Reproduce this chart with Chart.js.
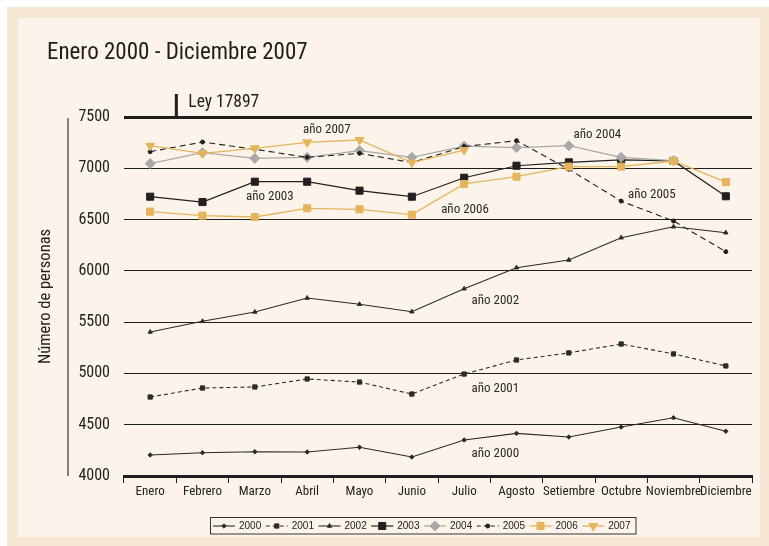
<!DOCTYPE html>
<html>
<head>
<meta charset="utf-8">
<script src="https://cdn.jsdelivr.net/npm/chart.js@4.4.1/dist/chart.umd.min.js"></script>
<style>
  html, body { margin: 0; padding: 0; background: #fff; }
  canvas { display: block; }
</style>
</head>
<body>
<canvas id="grafico" width="769" height="546"></canvas>
<script>
// datos (personas por mes)
const meses = ['Enero', 'Febrero', 'Marzo', 'Abril', 'Mayo', 'Junio', 'Julio', 'Agosto', 'Setiembre', 'Octubre', 'Noviembre', 'Diciembre'];
const anios = ['2000', '2001', '2002', '2003', '2004', '2005', '2006', '2007'];

const p2000 = [4205, 4227, 4237, 4234, 4280, 4185, 4351, 4416, 4380, 4477, 4568, 4436];
const p2001 = [4770, 4858, 4868, 4946, 4916, 4799, 4994, 5131, 5200, 5287, 5190, 5073];
const p2002 = [5404, 5508, 5599, 5735, 5674, 5602, 5826, 6031, 6106, 6323, 6430, 6372];
const p2003 = [6723, 6671, 6869, 6869, 6782, 6723, 6908, 7025, 7058, 7082, 7072, 6727];
const p2004 = [7046, 7152, 7097, 7107, 7172, 7107, 7217, 7201, 7220, 7107, 7074, null];
const p2005 = [7162, 7256, 7185, 7107, 7146, 7055, 7212, 7269, 6990, 6680, 6486, 6187];
const p2006 = [6577, 6538, 6525, 6610, 6600, 6548, 6847, 6918, 7016, 7016, 7071, 6866];
const p2007 = [7220, 7146, 7195, 7253, 7276, 7055, 7178, null, null, null, null, null];

const yMin = 4000, yMax = 7500, yPaso = 500;

// etiquetas dentro del grafico: texto, posicion en meses, valor
const notasTexto = ['año 2007', 'año 2003', 'año 2006', 'año 2004', 'año 2005', 'año 2002', 'año 2001', 'año 2000'];
const notasMes   = [2.92, 1.83, 5.56, 8.09, 9.13, 6.14, 6.14, 6.14];
const notasValor = [7373, 6720, 6593, 7324, 6740, 5706, 4855, 4221];

const leyTexto = 'Ley 17897';
const leyMes = 0.5;

const titulo = 'Enero 2000 - Diciembre 2007';
const tituloY = 'Número de personas';

const NEGRO = '#231f20';
const GRIS = '#a9a9a9';
const AMARILLO = '#e5b45c';
const ANGOSTA = "'Roboto Condensed', 'Liberation Sans', sans-serif";

const datasets = [
  { label: anios[0], data: p2000, borderColor: '#2b2b2b', backgroundColor: '#2b2b2b', borderWidth: 1.1, borderDash: [], pointStyle: 'rectRot', pointRadius: 2.2, order: 7 },
  { label: anios[1], data: p2001, borderColor: '#2b2b2b', backgroundColor: '#2b2b2b', borderWidth: 1.1, borderDash: [4, 3], pointStyle: 'rect', pointRadius: 3, order: 6 },
  { label: anios[2], data: p2002, borderColor: '#2b2b2b', backgroundColor: '#2b2b2b', borderWidth: 1.1, borderDash: [], pointStyle: 'triangle', pointRadius: 2.5, order: 5 },
  { label: anios[3], data: p2003, borderColor: NEGRO, backgroundColor: NEGRO, borderWidth: 1.2, borderDash: [], pointStyle: 'rect', pointRadius: 5, order: 4 },
  { label: anios[4], data: p2004, borderColor: GRIS, backgroundColor: GRIS, borderWidth: 1.3, borderDash: [], pointStyle: 'rectRot', pointRadius: 5, order: 3 },
  { label: anios[5], data: p2005, borderColor: NEGRO, backgroundColor: NEGRO, borderWidth: 1.1, borderDash: [6, 4], pointStyle: 'circle', pointRadius: 2, order: 2 },
  { label: anios[6], data: p2006, borderColor: AMARILLO, backgroundColor: AMARILLO, borderWidth: 1.3, borderDash: [], pointStyle: 'rect', pointRadius: 5, order: 1 },
  { label: anios[7], data: p2007, borderColor: AMARILLO, backgroundColor: AMARILLO, borderWidth: 1.3, borderDash: [], pointStyle: 'triangle', pointRotation: 180, pointRadius: 5, order: 0 }
];
datasets.forEach(d => {
  d.pointBackgroundColor = d.backgroundColor;
  d.pointBorderColor = d.borderColor;
  d.pointBorderWidth = 1;
  d.tension = 0;
  d.fill = false;
});

const marco = {
  id: 'marco',
  beforeDraw(chart) {
    const c = chart.ctx;
    c.save();
    c.fillStyle = '#ffffff';
    c.fillRect(0, 0, chart.width, chart.height);
    c.fillStyle = '#f6e7d2';
    c.fillRect(7, 7, chart.width - 7, chart.height - 7);
    c.fillStyle = '#fcf4ea';
    c.fillRect(18, 18, 742, 519);
    c.restore();
  },
  afterDraw(chart) {
    const c = chart.ctx;
    const xs = chart.scales.x, ys = chart.scales.y;
    const top = ys.getPixelForValue(yMax), bottom = ys.getPixelForValue(yMin);
    c.save();

    // titulo
    c.fillStyle = '#1e1e1e';
    c.font = '23px ' + ANGOSTA;
    c.textAlign = 'left';
    c.textBaseline = 'alphabetic';
    c.fillText(titulo, 47, 59);

    // linea y titulo del eje Y
    c.strokeStyle = '#333';
    c.lineWidth = 1.2;
    c.beginPath();
    c.moveTo(68, top + 1);
    c.lineTo(68, bottom);
    c.stroke();
    c.save();
    c.translate(46, (top + bottom) / 2);
    c.rotate(-Math.PI / 2);
    c.font = '16.5px ' + ANGOSTA;
    c.textAlign = 'center';
    c.textBaseline = 'middle';
    c.fillStyle = '#222';
    c.fillText(tituloY, 0, 0);
    c.restore();

    // marca de la ley
    const lx = xs.getPixelForValue(leyMes);
    c.fillStyle = '#1e1e1e';
    c.fillRect(lx - 1.5, top - 23, 3, 23);
    c.font = '17.5px ' + ANGOSTA;
    c.textBaseline = 'middle';
    c.fillText(leyTexto, lx + 12, top - 14);

    // notas de cada anio
    c.font = '13px ' + ANGOSTA;
    c.fillStyle = '#2a2a2a';
    notasTexto.forEach((t, i) => {
      c.fillText(t, xs.getPixelForValue(notasMes[i]), ys.getPixelForValue(notasValor[i]));
    });

    // leyenda
    c.strokeStyle = '#333';
    c.lineWidth = 1;
    c.strokeRect(210.5, 517.5, 425.5, 16.5);
    const ly = 526;
    datasets.forEach((d, i) => {
      const x0 = 213 + i * 52.75;
      c.save();
      c.strokeStyle = d.borderColor;
      c.lineWidth = d.borderWidth;
      c.setLineDash(d.borderDash.length ? [4, 3] : []);
      c.beginPath();
      c.moveTo(x0, ly);
      c.lineTo(x0 + 22, ly);
      c.stroke();
      c.setLineDash([]);
      c.fillStyle = d.backgroundColor;
      c.lineWidth = 1;
      Chart.helpers.drawPoint(c, {
        pointStyle: d.pointStyle,
        radius: d.pointRadius,
        rotation: d.pointRotation || 0,
        borderWidth: 1
      }, x0 + 11, ly);
      c.restore();
      c.fillStyle = '#222';
      c.font = "10px 'Liberation Sans', sans-serif";
      c.textAlign = 'left';
      c.textBaseline = 'middle';
      c.fillText(d.label, x0 + 26, ly + 0.5);
    });

    c.restore();
  }
};

new Chart(document.getElementById('grafico'), {
  type: 'line',
  data: { labels: meses, datasets: datasets },
  plugins: [marco],
  options: {
    responsive: false,
    animation: false,
    events: [],
    layout: { padding: { left: 0, top: 117, right: 17, bottom: 40 } },
    plugins: {
      legend: { display: false },
      tooltip: { enabled: false }
    },
    scales: {
      x: {
        offset: true,
        afterFit(scale) { scale.height = 30; },
        border: { display: true, width: 3, color: '#1e1e1e' },
        grid: {
          offset: true,
          drawOnChartArea: false,
          drawTicks: true,
          tickLength: 7,
          color: '#1e1e1e',
          lineWidth: 1
        },
        ticks: {
          autoSkip: false,
          maxRotation: 0,
          padding: 1,
          color: '#222',
          font: { family: ANGOSTA, size: 13 }
        }
      },
      y: {
        min: yMin,
        max: yMax,
        afterFit(scale) { scale.width = 124; },
        border: { display: false },
        grid: {
          drawTicks: false,
          color: '#1e1e1e',
          lineWidth: (ctx) => (ctx.tick && (ctx.tick.value === yMax || ctx.tick.value === yMin)) ? 3 : 1
        },
        ticks: {
          stepSize: yPaso,
          padding: 14,
          color: '#222',
          font: { family: ANGOSTA, size: 16 },
          callback: (v) => String(v)
        }
      }
    }
  }
});
</script>
</body>
</html>
